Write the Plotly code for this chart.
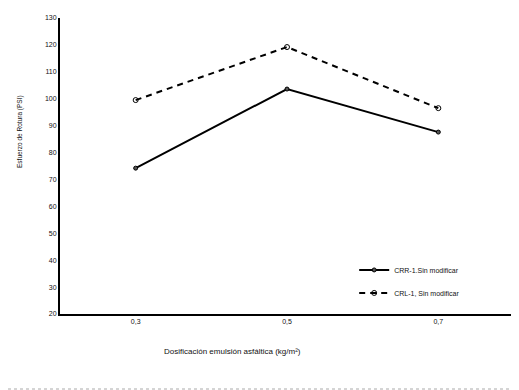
import plotly.graph_objects as go

categories = ["0,3", "0,5", "0,7"]
crr_values = [74.2, 103.6, 87.6]
crl_values = [99.5, 119.2, 96.5]
y_ticks = [20, 30, 40, 50, 60, 70, 80, 90, 100, 110, 120, 130]

fig = go.Figure()
fig.add_trace(go.Scatter(
    x=categories, y=crr_values, name="CRR-1.Sin modificar", mode="lines+markers",
    legendgroup="a",
    line=dict(color="black", width=2),
    marker=dict(symbol="circle", size=4, color="#555", line=dict(color="black", width=1)),
))
fig.add_trace(go.Scatter(
    x=categories, y=crl_values, name="CRL-1, Sin modificar", mode="lines+markers",
    legendgroup="b",
    line=dict(color="black", width=2, dash="6px,5px"),
    marker=dict(symbol="circle-open", size=5, color="black", line=dict(width=1)),
))

font = "Liberation Sans, Arial, sans-serif"
fig.update_layout(
    width=511, height=382,
    margin=dict(l=52, r=5, t=10, b=76, autoexpand=False),
    paper_bgcolor="white", plot_bgcolor="white",
    font=dict(family=font, size=7, color="#111"),
    showlegend=True,
    legend=dict(x=0.648, y=0.11, xanchor="left", yanchor="middle",
                font=dict(size=7), traceorder="grouped", tracegroupgap=4,
                bgcolor="rgba(0,0,0,0)"),
    xaxis=dict(type="category", range=[-0.5, 2.5], showline=True, linecolor="black", linewidth=2,
               showgrid=False, ticks="", tickfont=dict(size=7), zeroline=False, automargin=False),
    yaxis=dict(range=[20, 130], tickvals=y_ticks, showline=True, linecolor="black", linewidth=2,
               showgrid=False, ticks="", tickfont=dict(size=7), zeroline=False, automargin=False),
    annotations=[
        dict(text="Esfuerzo de Rotura (PSI)", xref="paper", yref="paper", textangle=-90,
             x=-0.088, y=0.615, showarrow=False, font=dict(size=6.5), xanchor="center", yanchor="middle"),
        dict(text="Dosificación emulsión asfáltica (kg/m²)", xref="paper", yref="paper",
             x=0.379, y=-0.125, showarrow=False, font=dict(size=8), xanchor="center", yanchor="middle"),
    ],
    shapes=[
        dict(type="line", xref="paper", yref="paper", x0=1 + 2/454, x1=1 + 2/454, y0=-75/296, y1=1 + 10/296,
             line=dict(color="#aaa", width=1, dash="dot")),
        dict(type="line", xref="paper", yref="paper", x0=-52/454, x1=1 + 2/454, y0=-75/296, y1=-75/296,
             line=dict(color="#aaa", width=1, dash="dot")),
    ],
)
fig.write_html("out.html")
